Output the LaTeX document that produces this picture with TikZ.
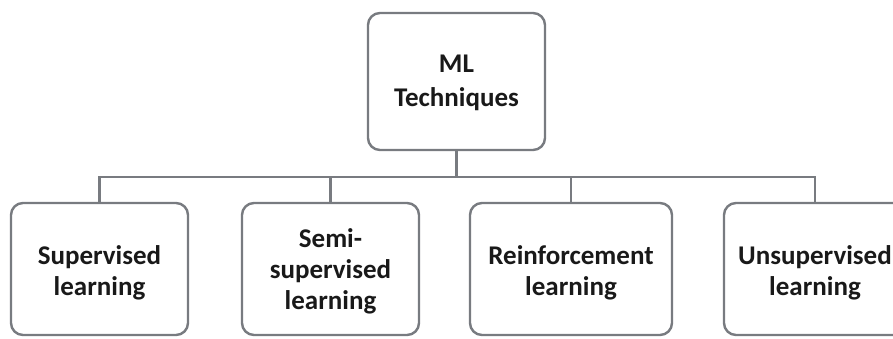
\documentclass[tikz,border=0pt]{standalone}
\usepackage{fontspec}
\setmainfont{Carlito}
\definecolor{boxgray}{RGB}{120,123,128}
\definecolor{txt}{RGB}{25,25,25}
\begin{document}
\begin{tikzpicture}[x=1pt,y=-1pt,
  box/.style={draw=boxgray, line width=2.4pt, rounded corners=12pt,
    inner sep=0pt, minimum height=132pt},
  lbl/.style={font=\bfseries\fontsize{27}{31}\selectfont, align=center, text=txt, inner sep=0pt},
  conn/.style={draw=boxgray, line width=2.2pt}]
\clip (0,0) rectangle (893,338);
\fill[white] (0,0) rectangle (893,338);
\node[box, minimum width=177pt, minimum height=137pt] (top) at (456.5,81.5) {};
\node[box, minimum width=177pt] (b1) at (99.5,269) {};
\node[box, minimum width=177pt] (b2) at (330.5,269) {};
\node[box, minimum width=202pt] (b3) at (571,269) {};
\node[box, minimum width=182pt] (b4) at (815,269) {};
\node[lbl, font=\bfseries\fontsize{27}{34}\selectfont] (ttop) at ([yshift=-1pt]top.center) {ML\\Techniques};
\node[lbl] (t1) at ([yshift=-4pt]b1.center) {Supervised\\learning};
\node[lbl] (t2) at ([yshift=-2pt]b2.center) {Semi-\\supervised\\learning};
\node[lbl] (t3) at ([yshift=-4pt]b3.center) {Reinforcement\\learning};
\node[lbl] (t4) at ([yshift=-4pt]b4.center) {Unsupervised\\learning};
\coordinate (bus) at (0,177);
\draw[conn] (top.south) -- (top.south |- bus) -| (b1.north);
\draw[conn] (top.south |- bus) -| (b2.north);
\draw[conn] (top.south |- bus) -| (b3.north);
\draw[conn] (top.south |- bus) -| (b4.north);
\end{tikzpicture}
\end{document}
